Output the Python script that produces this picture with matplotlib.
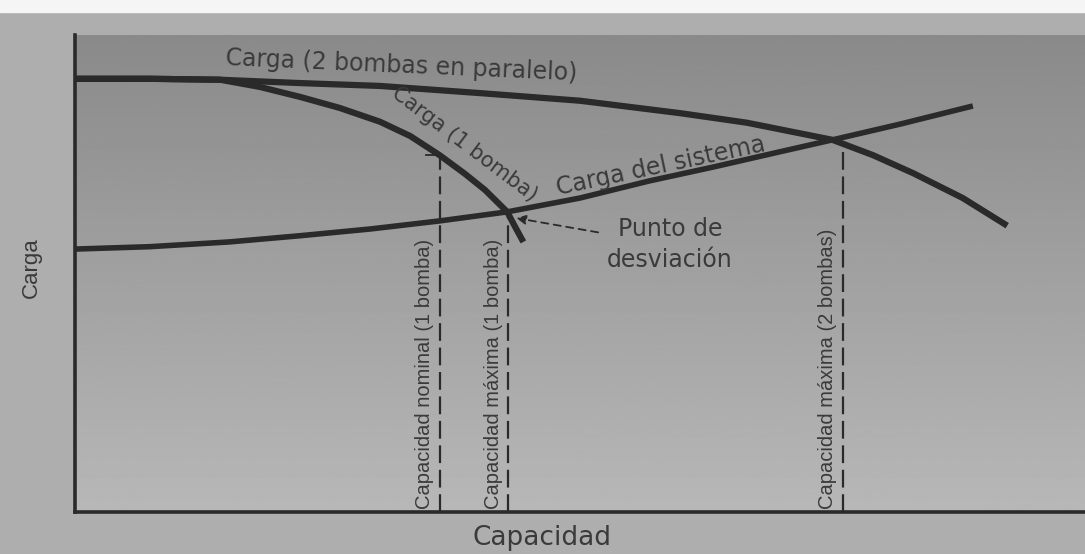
"""Pump curves: one pump vs two pumps in parallel, with system curve."""
import numpy as np
import matplotlib.pyplot as plt
from matplotlib.patches import Rectangle

plt.rcParams['font.family'] = ['DejaVu Sans']

# ── curves (capacity %, head %) ────────────────────────────────────
q_two = [0, 7.4, 14.4, 22.3, 30.2, 40.1, 50.0, 59.9, 66.5, 75.0, 79.0, 83.0, 87.9, 92.3]
h_two = [90.8, 90.8, 90.6, 89.9, 89.3, 87.8, 86.2, 83.6, 81.6, 78.0, 74.8, 71.0, 65.8, 60.0]

q_one = [0, 7.4, 14.4, 18.3, 22.3, 26.2, 30.2, 33.2, 36.1, 38.6, 40.6, 42.8, 43.6, 44.4]
h_one = [90.8, 90.8, 90.6, 89.1, 87.0, 84.7, 81.8, 78.8, 74.8, 70.9, 67.5, 62.9, 59.7, 56.6]

q_sys = [0, 7.4, 15.3, 22.3, 29.2, 36.1, 42.8, 50.0, 56.9, 63.2, 69.8, 75.0, 81.7, 88.9]
h_sys = [55.1, 55.6, 56.6, 57.9, 59.3, 61.0, 62.9, 65.8, 69.4, 72.3, 75.5, 78.0, 81.3, 85.1]

# capacity markers: x position, top of dashed line, label
cap_x = [36.1, 42.9, 76.0]
cap_top = [74.8, 62.9, 77.4]
cap_labels = ['Capacidad nominal (1 bomba)',
              'Capacidad máxima (1 bomba)',
              'Capacidad máxima (2 bombas)']

ink = '#2a2a2a'
txt = '#3a3a3a'

fig = plt.figure(figsize=(10.85, 5.54), dpi=100, facecolor='#aeaeae')
ax = fig.add_axes([0.069, 0.076, 0.931, 0.861])
ax.set_xlim(0, 100)
ax.set_ylim(0, 100)

# photo-like background shading (darker towards the top)
grad = np.linspace(0, 1, 256).reshape(-1, 1)
ax.imshow(grad, extent=[0, 100, 0, 100], cmap='gray', vmin=-3.0, vmax=2.56,
          aspect='auto', origin='upper', zorder=0)
fig.patches.append(Rectangle((0, 0.978), 1, 0.022, transform=fig.transFigure,
                             color='#f5f5f5', zorder=-1))

# ── curves ─────────────────────────────────────────────────────────
ax.plot(q_two, h_two, color=ink, lw=4.5, solid_capstyle='butt', solid_joinstyle='round', zorder=3)
ax.plot(q_one, h_one, color=ink, lw=4.5, solid_capstyle='butt', solid_joinstyle='round', zorder=3)
ax.plot(q_sys, h_sys, color=ink, lw=4.0, solid_capstyle='butt', solid_joinstyle='round', zorder=3)

# ── dashed capacity lines ──────────────────────────────────────────
for x, top, lbl in zip(cap_x, cap_top, cap_labels):
    ax.plot([x, x], [0, top], color=ink, lw=1.6, linestyle=(0, (8, 3)), zorder=2)
    ax.text(x - 1.5, 0.6, lbl, rotation=90, ha='center', va='bottom',
            fontsize=14.5, color=txt, family='Liberation Sans')
ax.plot([cap_x[0] - 1.3, cap_x[0]], [cap_top[0], cap_top[0]], color=ink, lw=1.3)

# ── curve labels ───────────────────────────────────────────────────
ax.text(32.3, 93.6, 'Carga (2 bombas en paralelo)', rotation=-2.5,
        ha='center', va='center', fontsize=17, color=txt)
ax.text(38.6, 77.0, 'Carga (1 bomba)', rotation=-37,
        ha='center', va='center', fontsize=15, color=txt)
ax.text(58.0, 72.4, 'Carga del sistema', rotation=12,
        ha='center', va='center', fontsize=17, color=txt)

ax.text(58.9, 56.0, 'Punto de\ndesviación', ha='center', va='center',
        fontsize=17, color=txt, linespacing=1.35)
ax.annotate('', xy=(43.7, 61.6), xytext=(51.8, 58.6),
            arrowprops=dict(arrowstyle='-|>', color=ink, lw=1.3, linestyle=(0, (4, 3)),
                            shrinkA=0, shrinkB=0, mutation_scale=14))

# ── axes ───────────────────────────────────────────────────────────
for side in ['top', 'right']:
    ax.spines[side].set_visible(False)
for side in ['left', 'bottom']:
    ax.spines[side].set_linewidth(2.6)
    ax.spines[side].set_color(ink)
ax.set_xticks([])
ax.set_yticks([])

fig.text(31 / 1085, 1 - 268 / 554, 'Carga', rotation=90, ha='center', va='center',
         fontsize=16, color=txt, family='Liberation Sans')
fig.text(542 / 1085, 1 - 538 / 554, 'Capacidad', ha='center', va='center',
         fontsize=19, color=txt)

fig.savefig('out.png', dpi=100, facecolor=fig.get_facecolor())
